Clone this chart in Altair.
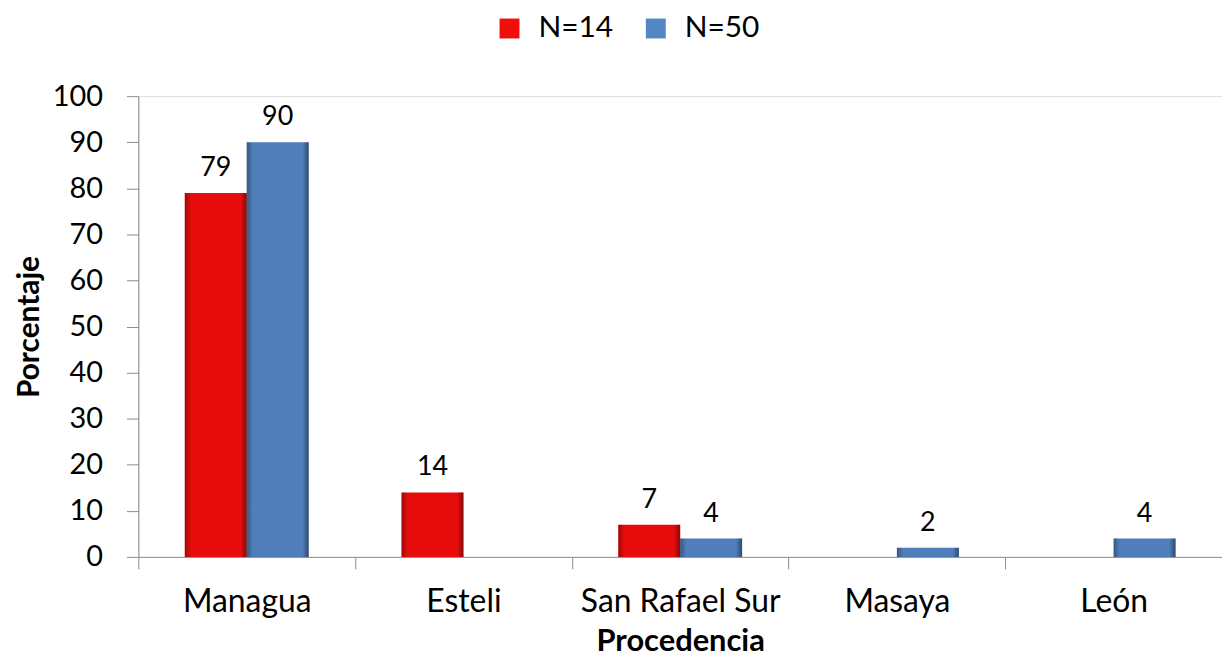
import altair as alt
import pandas as pd

categories = ["Managua", "Esteli", "San Rafael Sur", "Masaya", "León"]
series = ["N=14", "N=50"]
n14_values = [79, 14, 7, 0, 0]
n50_values = [90, 0, 4, 2, 4]
y_ticks = [0, 10, 20, 30, 40, 50, 60, 70, 80, 90, 100]

rows = []
for c, a, b in zip(categories, n14_values, n50_values):
    rows.append({"cat": c, "series": series[0], "value": a})
    rows.append({"cat": c, "series": series[1], "value": b})
df = pd.DataFrame(rows)
df = df[df["value"] > 0]

FONT = "Lato"

x_enc = alt.X(
    "cat:N",
    sort=categories,
    scale=alt.Scale(domain=categories, paddingInner=0, paddingOuter=0),
    axis=alt.Axis(
        title="Procedencia",
        labelAngle=0,
        labelLimit=400,
        tickBand="extent",
        tickSize=12,
        labelPadding=18,
        labelFontSize=32,
        labelFont=FONT,
        labelColor="#000000",
        domainColor="#8c8c8c",
        tickColor="#8c8c8c",
        titleFont=FONT,
        titleFontSize=31,
        titleFontWeight="bold",
        titleColor="#000000",
        titleY=94,
        titleBaseline="alphabetic",
    ),
)
y_enc = alt.Y(
    "value:Q",
    scale=alt.Scale(domain=[0, 100]),
    axis=alt.Axis(
        title="Porcentaje",
        values=y_ticks,
        grid=False,
        tickSize=12,
        labelPadding=24,
        labelFontSize=29,
        labelFont=FONT,
        labelColor="#000000",
        domainColor="#8c8c8c",
        tickColor="#8c8c8c",
        titleFont=FONT,
        titleFontSize=30,
        titleFontWeight="bold",
        titleColor="#000000",
        titleAngle=270,
        titleX=-109,
        titleBaseline="middle",
        titleAlign="center",
    ),
)
xo_enc = alt.XOffset(
    "series:N",
    scale=alt.Scale(domain=series, paddingInner=0, paddingOuter=0.75),
)

base = alt.Chart(df).encode(x=x_enc, y=y_enc, xOffset=xo_enc)

bars = base.mark_bar().encode(
    color=alt.Color(
        "series:N",
        scale=alt.Scale(domain=series, range=["#f20d0d", "#5485c4"]),
        legend=alt.Legend(
            title=None,
            orient="none",
            legendX=358,
            legendY=-83,
            direction="horizontal",
            symbolType="square",
            symbolSize=400,
            symbolStrokeWidth=0,
            labelFontSize=30,
            labelFont=FONT,
            labelColor="#000000",
            columnPadding=27,
            labelOffset=14,
        ),
    )
)

edge_shade = base.mark_bar(
    fill={
        "gradient": "linear",
        "x1": 0, "y1": 0, "x2": 1, "y2": 0,
        "stops": [
            {"offset": 0, "color": "rgba(0,0,0,0.35)"},
            {"offset": 0.1, "color": "rgba(0,0,0,0.05)"},
            {"offset": 0.9, "color": "rgba(0,0,0,0.05)"},
            {"offset": 1, "color": "rgba(0,0,0,0.45)"},
        ],
    }
)

labels = base.mark_text(
    baseline="bottom", dy=-11, fontSize=27, font=FONT, color="#000000"
).encode(text=alt.Text("value:Q"))

chart = (
    alt.layer(bars, edge_shade, labels)
    .properties(
        width=1089,
        height=463,
        autosize=alt.AutoSizeParams(type="none"),
        padding={"left": 131, "top": 87, "right": 0, "bottom": 100},
    )
    .configure_view(stroke=None)
    .configure(background="#ffffff")
)

chart.save("out.html", embed_options={"renderer": "svg", "actions": False})
